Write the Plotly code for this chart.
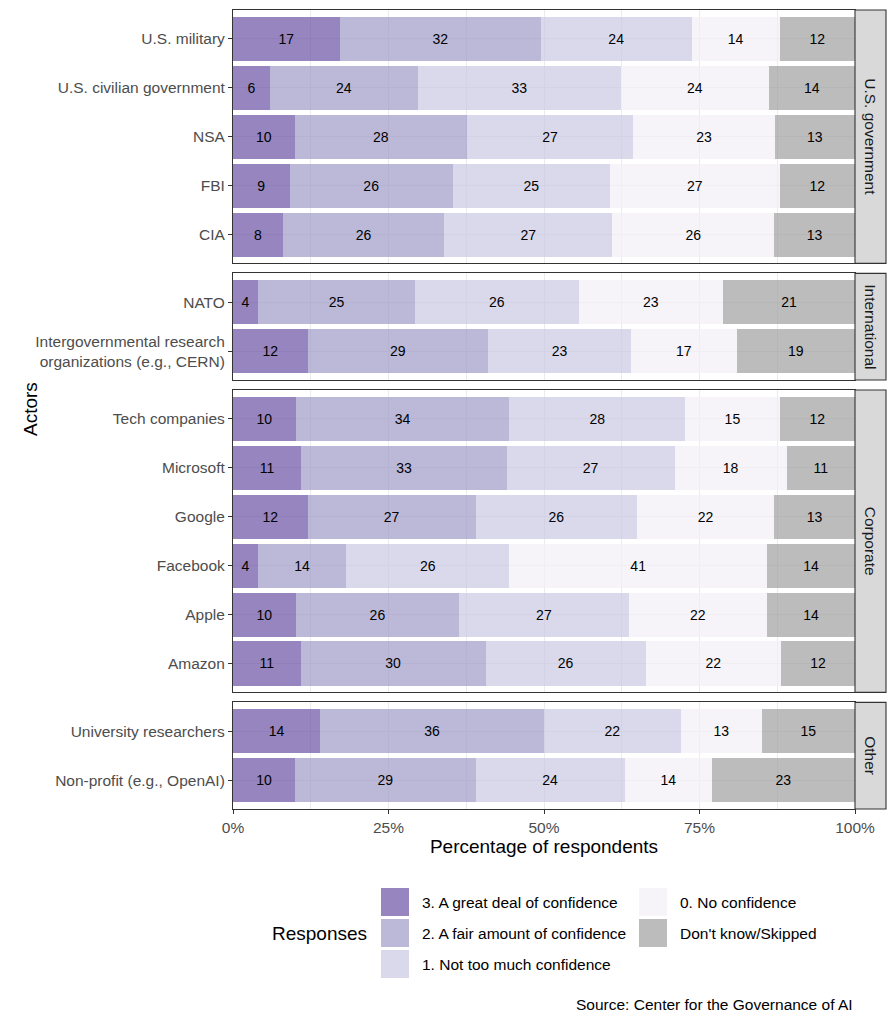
import plotly.graph_objects as go
from plotly.subplots import make_subplots

# Data (percent of respondents)
responses = ["3. A great deal of confidence", "2. A fair amount of confidence",
             "1. Not too much confidence", "0. No confidence", "Don't know/Skipped"]
colors = ["rgba(106,81,163,0.7)", "rgba(158,154,200,0.7)", "rgba(203,201,226,0.7)",
          "rgba(242,240,247,0.7)", "rgba(160,160,160,0.7)"]

groups = ["U.S. government", "International", "Corporate", "Other"]

actors_gov = ["U.S. military", "U.S. civilian government", "NSA", "FBI", "CIA"]
values_gov = [[17, 32, 24, 14, 12],
              [6, 24, 33, 24, 14],
              [10, 28, 27, 23, 13],
              [9, 26, 25, 27, 12],
              [8, 26, 27, 26, 13]]

actors_int = ["NATO", "Intergovernmental research<br>organizations (e.g., CERN)"]
values_int = [[4, 25, 26, 23, 21],
              [12, 29, 23, 17, 19]]

actors_corp = ["Tech companies", "Microsoft", "Google", "Facebook", "Apple", "Amazon"]
values_corp = [[10, 34, 28, 15, 12],
               [11, 33, 27, 18, 11],
               [12, 27, 26, 22, 13],
               [4, 14, 26, 41, 14],
               [10, 26, 27, 22, 14],
               [11, 30, 26, 22, 12]]

actors_other = ["University researchers", "Non-profit (e.g., OpenAI)"]
values_other = [[14, 36, 22, 13, 15],
                [10, 29, 24, 14, 23]]

panels = [(groups[0], actors_gov, values_gov),
          (groups[1], actors_int, values_int),
          (groups[2], actors_corp, values_corp),
          (groups[3], actors_other, values_other)]

# page geometry (px, in browser-window coordinates)
OFF = 8                      # default body margin of the html page
PL, PR, PT, PB = 233, 855, 10, 809   # plot area edges on screen
W, H = 896 - OFF, 1024 - OFF
pw, ph = PR - PL, PB - PT
EXP = 0.59  # discrete axis padding around first/last row

def px_x(x):
    return (x - PL) / pw

def px_y(y):
    return (PB - y) / ph

fig = make_subplots(rows=4, cols=1, shared_xaxes=True,
                    vertical_spacing=10 / ph,
                    row_heights=[len(a) - 1 + 2 * EXP for _, a, _ in panels])

FONT = "Liberation Sans, Arial, sans-serif"

for r, (grp, actors, vals) in enumerate(panels, start=1):
    totals = [sum(v) for v in vals]
    for k, resp in enumerate(responses):
        fig.add_trace(go.Bar(
            orientation="h",
            y=actors,
            x=[v[k] / t * 100 for v, t in zip(vals, totals)],
            text=[v[k] for v in vals],
            textposition="inside",
            insidetextanchor="middle",
            textangle=0,
            constraintext="none",
            textfont=dict(size=14, color="black", family=FONT),
            marker=dict(color=colors[k], line=dict(width=0)),
            width=0.9,
            name=resp,
            showlegend=False,
        ), row=r, col=1)

    n = len(actors)
    fig.update_yaxes(type="category", categoryorder="array", categoryarray=actors,
                     range=[n - 1 + EXP, -EXP], row=r, col=1)

    # facet strip on the right
    xd = "x domain" if r == 1 else f"x{r} domain"
    yd = "y domain" if r == 1 else f"y{r} domain"
    fig.add_shape(type="rect", xref=xd, yref=yd, x0=1, x1=1 + 31 / pw, y0=0, y1=1,
                  fillcolor="#d9d9d9", line=dict(color="#333333", width=1.1))
    fig.add_annotation(xref=xd, yref=yd, x=1 + 15.5 / pw, y=0.5, text=grp,
                       textangle=90, showarrow=False,
                       xanchor="center", yanchor="middle",
                       font=dict(size=15.5, color="#1a1a1a", family=FONT))

fig.update_xaxes(range=[0, 100], dtick=25, ticksuffix="%", zeroline=False,
                 showgrid=True, gridcolor="#ebebeb", gridwidth=1.1,
                 minor=dict(dtick=12.5, showgrid=True, gridcolor="#ebebeb", gridwidth=0.55),
                 showline=True, mirror=True, linecolor="#333333", linewidth=1.1,
                 ticks="", tickfont=dict(size=15.5, color="#4d4d4d", family=FONT))
fig.update_xaxes(ticks="outside", ticklen=4, tickwidth=1.1, tickcolor="#333333",
                 title=dict(text="Percentage of respondents", standoff=4,
                            font=dict(size=19, color="black", family=FONT)),
                 row=4, col=1)
fig.update_yaxes(showgrid=True, gridcolor="#ebebeb", gridwidth=1.1, zeroline=False,
                 showline=True, mirror=True, linecolor="#333333", linewidth=1.1,
                 ticks="outside", ticklen=4, tickwidth=1.1, tickcolor="#333333",
                 tickfont=dict(size=15.5, color="#4d4d4d", family=FONT))

# y axis title
fig.add_annotation(xref="paper", yref="paper", x=px_x(18), y=0.5, text="Actors",
                   textangle=-90, showarrow=False,
                   font=dict(size=19, color="black", family=FONT))

# legend, drawn by hand (ggplot style: 2 columns, filled column-wise)
key_x = [381, 639]
row_y = [888, 919, 950]
for i, (resp, col) in enumerate(zip(responses, colors)):
    c, rr = divmod(i, 3)
    x0, y0 = key_x[c], row_y[rr]
    fig.add_shape(type="rect", xref="paper", yref="paper",
                  x0=px_x(x0), x1=px_x(x0 + 28), y0=px_y(y0 + 28), y1=px_y(y0),
                  fillcolor=col, line=dict(width=0))
    fig.add_annotation(xref="paper", yref="paper", x=px_x(x0 + 39), y=px_y(y0 + 14),
                       text=resp, showarrow=False, xanchor="left", yanchor="middle",
                       font=dict(size=15.5, color="black", family=FONT))
fig.add_annotation(xref="paper", yref="paper", x=px_x(369), y=px_y(933),
                   text="Responses", showarrow=False, xanchor="right", yanchor="middle",
                   font=dict(size=19, color="black", family=FONT))

# caption
fig.add_annotation(xref="paper", yref="paper", x=px_x(855), y=px_y(1004),
                   text="Source: Center for the Governance of AI", showarrow=False,
                   xanchor="right", yanchor="middle",
                   font=dict(size=15.5, color="black", family=FONT))

fig.update_layout(
    width=W, height=H,
    margin=dict(l=PL - OFF, r=W - (PR - OFF), t=PT - OFF, b=H - (PB - OFF),
                autoexpand=False),
    barmode="stack", bargap=0.1,
    plot_bgcolor="white", paper_bgcolor="white",
    font=dict(family=FONT),
    showlegend=False,
)

fig.write_html("out.html")
